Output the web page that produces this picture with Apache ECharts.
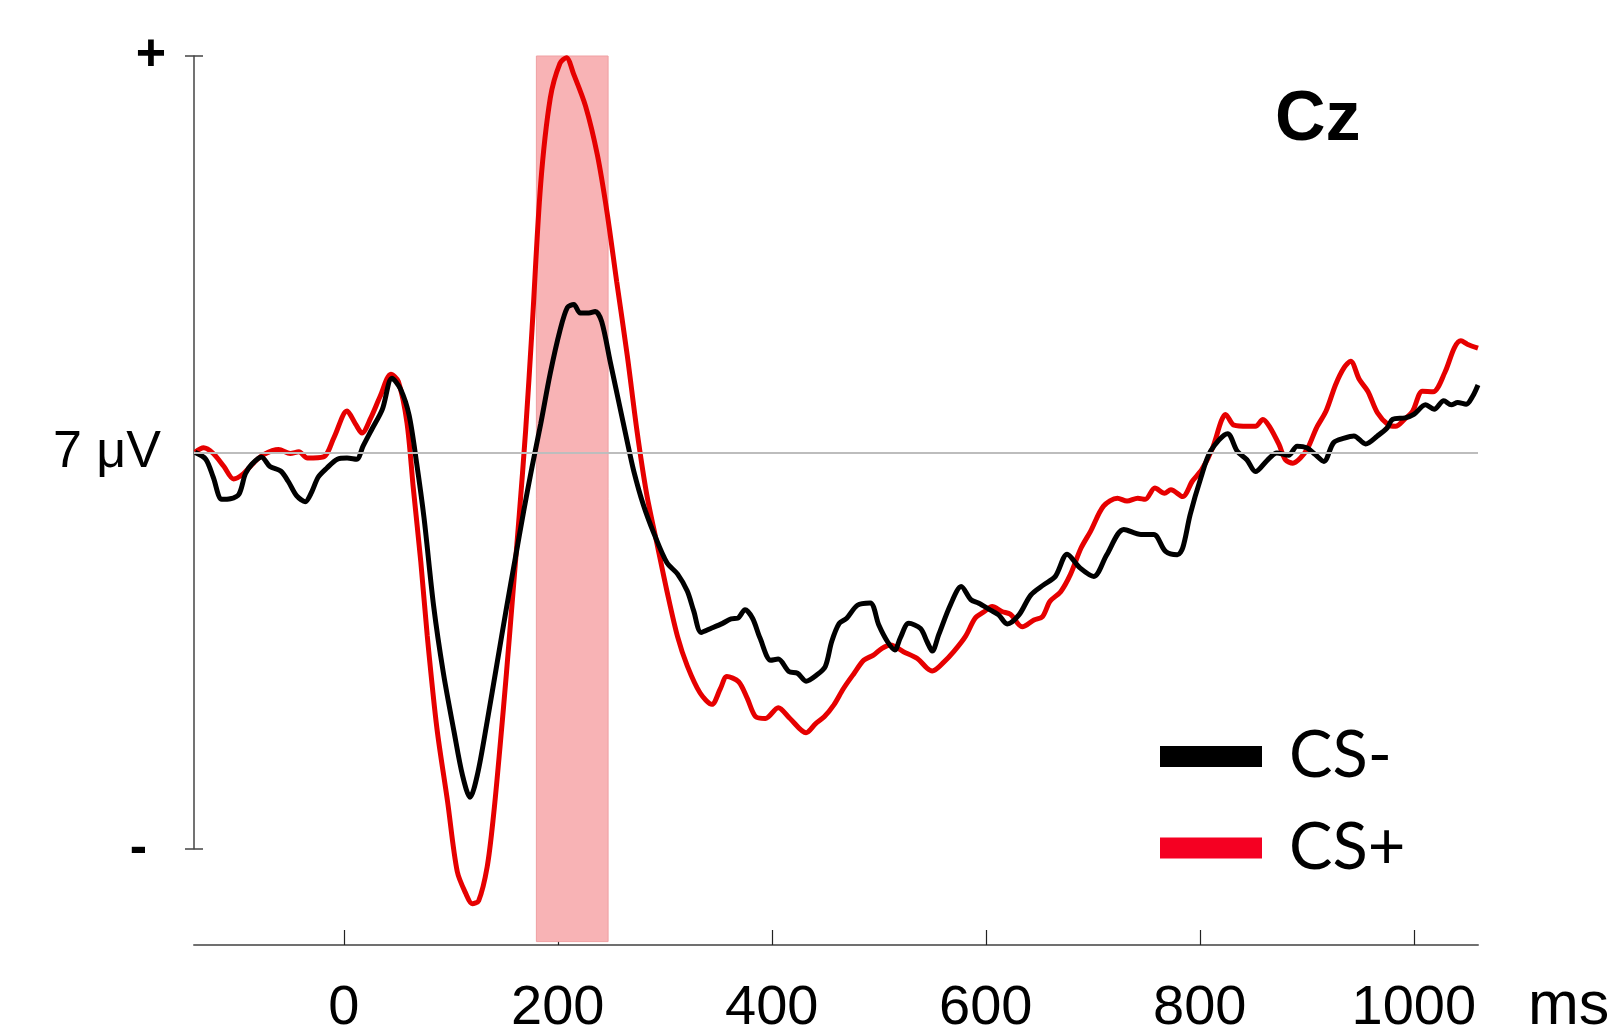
<!DOCTYPE html>
<html>
<head>
<meta charset="utf-8">
<script src="https://cdn.jsdelivr.net/npm/echarts@6/dist/echarts.min.js"></script>
<style>
  html, body { margin: 0; padding: 0; background: #ffffff; }
  #chart { width: 1608px; height: 1032px; }
</style>
</head>
<body>
<div id="chart"></div>
<script>
// Grand-average ERP at electrode Cz, amplitudes in µV, time in ms after CS onset
const electrode = 'Cz';
const timeUnit = 'ms';

const csMinusTimes = [
  -139, -129, -122, -114, -106, -98, -92, -86, -77, -69, -59, -52, -44, -36, -30, -24, -16, -6,
  3, 12, 18, 26, 36, 45, 53, 61, 68, 75, 84, 93, 103, 111, 118, 125, 134, 143, 152, 160, 168,
  176, 184, 193, 202, 209, 215, 221, 229, 235, 241, 249, 257, 265, 271, 280, 290, 302, 312, 321,
  327, 334, 343, 354, 362, 368, 375, 382, 389, 399, 406, 416, 424, 432, 442, 450, 456, 463, 470,
  480, 492, 500, 508, 515, 520, 528, 539, 545, 550, 556, 567, 577, 586, 593, 604, 612, 620, 631,
  642, 654, 665, 676, 688, 701, 713, 729, 745, 757, 768, 779, 784, 791, 801, 810, 826, 835, 844,
  852, 863, 872, 883, 891, 900, 908, 916, 925, 935, 944, 955, 966, 975, 980, 992, 1000, 1011,
  1019, 1028, 1035, 1041, 1049, 1055, 1060
];
const csMinusValues = [
  0.00, -0.12, -0.44, -0.83, -0.82, -0.74, -0.38, -0.21, -0.08, -0.25, -0.33, -0.51, -0.77, -0.87, -0.70, -0.44, -0.28, -0.12,
  -0.10, -0.12, 0.11, 0.40, 0.76, 1.31, 1.12, 0.66, -0.18, -1.16, -2.72, -3.89, -4.93, -5.71, -6.09, -5.68, -4.75, -3.75, -2.75, -1.90, -1.05,
  -0.25, 0.50, 1.40, 2.15, 2.56, 2.61, 2.46, 2.46, 2.49, 2.31, 1.60, 0.89, 0.18, -0.33, -0.93, -1.44, -1.95, -2.15, -2.45,
  -2.80, -3.18, -3.11, -3.02, -2.94, -2.93, -2.78, -2.93, -3.28, -3.67, -3.65, -3.87, -3.90, -4.04, -3.93, -3.78, -3.34, -3.02, -2.93,
  -2.70, -2.66, -3.05, -3.34, -3.49, -3.28, -3.02, -3.11, -3.34, -3.51, -3.22, -2.69, -2.37, -2.60, -2.66, -2.78, -2.87, -3.03, -2.87,
  -2.52, -2.34, -2.19, -1.80, -2.04, -2.19, -1.81, -1.36, -1.45, -1.45, -1.75, -1.81, -1.69, -1.10, -0.45, 0.02, 0.33, 0.02, -0.13,
  -0.34, -0.14, -0.01, -0.05, 0.11, 0.08, -0.04, -0.16, 0.17, 0.25, 0.29, 0.15, 0.29, 0.43, 0.58, 0.61, 0.67, 0.84,
  0.76, 0.91, 0.84, 0.88, 0.85, 0.99, 1.19
];

const csPlusTimes = [
  -139, -131, -122, -112, -103, -94, -84, -75, -61, -50, -42, -34, -19, -9, 3, 11, 17, 25, 34, 44,
  51, 59, 65, 72, 78, 87, 97, 106, 114, 120, 126, 134, 140, 146, 152, 158, 164, 170, 176, 184,
  193, 202, 208, 215, 226, 237, 246, 255, 265, 274, 283, 293, 302, 312, 321, 333, 344, 352, 358,
  369, 377, 385, 394, 406, 417, 432, 441, 449, 458, 467, 477, 486, 495, 503, 511, 523, 536, 545,
  550, 561, 570, 581, 590, 598, 606, 615, 623, 634, 645, 653, 660, 670, 679, 689, 698, 710, 723,
  732, 742, 749, 758, 767, 773, 784, 793, 802, 812, 820, 824, 832, 845, 852, 859, 865, 874, 880,
  887, 894, 901, 909, 918, 927, 935, 941, 949, 957, 966, 976, 983, 991, 999, 1008, 1018, 1029,
  1038, 1044, 1050, 1060
];
const csPlusValues = [
  0.00, 0.08, -0.02, -0.25, -0.47, -0.38, -0.18, -0.04, 0.05, -0.02, 0.01, -0.10, -0.08, 0.27, 0.73, 0.50, 0.34, 0.60, 0.99, 1.38,
  1.25, 0.53, -0.64, -1.94, -3.24, -4.87, -6.17, -7.40, -7.79, -7.97, -7.92, -7.32, -6.40, -5.20, -3.90, -2.50, -1.10, 0.40, 2.20, 4.74,
  6.26, 6.87, 6.97, 6.67, 6.11, 5.25, 4.24, 3.02, 1.70, 0.38, -0.73, -1.64, -2.45, -3.26, -3.77, -4.25, -4.45, -4.17, -3.96,
  -4.05, -4.34, -4.67, -4.70, -4.51, -4.70, -4.95, -4.79, -4.67, -4.46, -4.17, -3.90, -3.67, -3.58, -3.46, -3.40, -3.52, -3.64, -3.81,
  -3.86, -3.70, -3.52, -3.25, -2.93, -2.82, -2.72, -2.81, -2.86, -3.08, -2.96, -2.90, -2.63, -2.46, -2.16, -1.69, -1.39, -0.95, -0.81,
  -0.86, -0.81, -0.83, -0.63, -0.72, -0.66, -0.78, -0.51, -0.30, 0.08, 0.55, 0.67, 0.48, 0.46, 0.46, 0.58, 0.46, 0.14, -0.13,
  -0.19, -0.10, 0.08, 0.43, 0.73, 1.20, 1.50, 1.61, 1.29, 1.08, 0.70, 0.49, 0.46, 0.58, 0.73, 1.08, 1.07, 1.41,
  1.85, 1.97, 1.91, 1.84
];

const timeTicks = [0, 200, 400, 600, 800, 1000];
const scaleTicks = [-7, 0, 7];
const scaleLabels = ['-', '7 μV', '+'];
const highlightWindow = [180, 247];

// Plot geometry
const X_MIN = -140, X_MAX = 1060;
const Y_MIN = -8.7, Y_MAX = 7;
const GRID_LEFT = 194, GRID_TOP = 56, GRID_W = 1284, GRID_H = 889;
const pxPerUv = GRID_H / (Y_MAX - Y_MIN);
const scaleTop = GRID_TOP + (Y_MAX - scaleTicks[2]) * pxPerUv;
const scaleHeight = (scaleTicks[2] - scaleTicks[0]) * pxPerUv;

const toPairs = (ts, vs) => ts.map((t, i) => [t, vs[i]]);

const chart = echarts.init(document.getElementById('chart'), null, { renderer: 'canvas' });

const scaleTickStyle = { color: '#444444', width: 1.5 };
const labelFont = 'Liberation Sans';

const option = {
  animation: false,
  backgroundColor: '#ffffff',
  title: [
    {
      text: electrode,
      left: 1275,
      top: 86,
      padding: 0,
      textStyle: { fontFamily: labelFont, fontWeight: 'bold', fontSize: 70, color: '#000000' }
    },
    {
      // time-axis unit, set on the tick-label row
      text: timeUnit,
      left: GRID_LEFT + GRID_W + 50,
      top: 977,
      padding: 0,
      textStyle: { fontFamily: labelFont, fontWeight: 'normal', fontSize: 61, color: '#000000' }
    }
  ],
  legend: {
    orient: 'vertical',
    left: 1160,
    top: 724,
    padding: 0,
    itemWidth: 102,
    itemHeight: 21,
    itemGap: 26.5,
    icon: 'rect',
    selectedMode: false,
    data: [
      { name: 'CS-', itemStyle: { color: '#000000', borderWidth: 0 } },
      { name: 'CS+', itemStyle: { color: '#f50022', borderWidth: 0 } }
    ],
    itemStyle: { borderWidth: 0 },
    textStyle: { fontFamily: 'Lato', fontSize: 65, lineHeight: 64, color: '#000000', padding: [0, 0, 0, 22] }
  },
  grid: [
    { left: GRID_LEFT, top: GRID_TOP, width: GRID_W, height: GRID_H, outerBoundsMode: 'none' },
    { left: GRID_LEFT, top: scaleTop, width: GRID_W, height: scaleHeight, outerBoundsMode: 'none' }
  ],
  xAxis: [
    {
      gridIndex: 0,
      type: 'value',
      min: X_MIN,
      max: X_MAX,
      position: 'bottom',
      axisLine: { show: true, onZero: false, lineStyle: { color: '#707070', width: 2 } },
      axisTick: { show: true, inside: true, length: 15, customValues: timeTicks, lineStyle: { color: '#222222', width: 1.2 } },
      axisLabel: {
        show: true,
        customValues: timeTicks,
        margin: 36,
        fontFamily: labelFont,
        fontSize: 56,
        color: '#000000',
        formatter: function (v) { return String(v); }
      },
      splitLine: { show: false }
    },
    { gridIndex: 1, type: 'value', min: X_MIN, max: X_MAX, show: false }
  ],
  yAxis: [
    { gridIndex: 0, type: 'value', min: Y_MIN, max: Y_MAX, show: false },
    {
      gridIndex: 1,
      type: 'value',
      min: scaleTicks[0],
      max: scaleTicks[2],
      position: 'left',
      axisLine: { show: true, onZero: false, lineStyle: scaleTickStyle },
      axisTick: { show: true, inside: false, length: 9, customValues: [scaleTicks[0], scaleTicks[2]], lineStyle: scaleTickStyle },
      axisLabel: {
        show: true,
        customValues: scaleTicks,
        margin: 28,
        formatter: function (v) {
          const i = scaleTicks.indexOf(v);
          const key = i === 0 ? 'minus' : (i === 2 ? 'plus' : 'unit');
          return '{' + key + '|' + scaleLabels[i] + '}';
        },
        rich: {
          plus: { fontFamily: labelFont, fontWeight: 'bold', fontSize: 52, color: '#000000' },
          unit: { fontFamily: labelFont, fontSize: 52, color: '#000000', padding: [0, 5, 0, 0] },
          minus: { fontFamily: labelFont, fontWeight: 'bold', fontSize: 52, color: '#000000', padding: [0, 19, 0, 0] }
        }
      },
      splitLine: { show: false }
    },
    {
      gridIndex: 1,
      type: 'value',
      min: scaleTicks[0],
      max: scaleTicks[2],
      position: 'left',
      axisLine: { show: false, onZero: false },
      axisTick: { show: true, inside: true, length: 9, customValues: [scaleTicks[0], scaleTicks[2]], lineStyle: scaleTickStyle },
      axisLabel: { show: false },
      splitLine: { show: false }
    }
  ],
  series: [
    {
      // shaded analysis window
      type: 'line',
      xAxisIndex: 0,
      yAxisIndex: 0,
      data: [],
      z: 1,
      silent: true,
      markArea: {
        silent: true,
        itemStyle: { color: '#f8b3b5', borderColor: '#efa0a3', borderWidth: 1 },
        data: [[{ xAxis: highlightWindow[0], yAxis: Y_MAX }, { xAxis: highlightWindow[1], yAxis: Y_MIN + 0.06 }]]
      }
    },
    {
      // 0 µV reference line
      type: 'line',
      xAxisIndex: 0,
      yAxisIndex: 0,
      data: [],
      z: 2,
      silent: true,
      markLine: {
        silent: true,
        symbol: ['none', 'none'],
        label: { show: false },
        lineStyle: { color: '#bdbdbd', width: 2, type: 'solid' },
        data: [{ yAxis: 0 }]
      }
    },
    {
      name: 'CS+',
      type: 'line',
      xAxisIndex: 0,
      yAxisIndex: 0,
      data: toPairs(csPlusTimes, csPlusValues),
      symbol: 'none',
      smooth: 0.3,
      clip: false,
      silent: true,
      z: 3,
      itemStyle: { color: '#f50022' },
      lineStyle: { color: '#e60000', width: 5 }
    },
    {
      name: 'CS-',
      type: 'line',
      xAxisIndex: 0,
      yAxisIndex: 0,
      data: toPairs(csMinusTimes, csMinusValues),
      symbol: 'none',
      smooth: 0.3,
      clip: false,
      silent: true,
      z: 4,
      itemStyle: { color: '#000000' },
      lineStyle: { color: '#000000', width: 5 }
    }
  ]
};

chart.setOption(option);
</script>
</body>
</html>
